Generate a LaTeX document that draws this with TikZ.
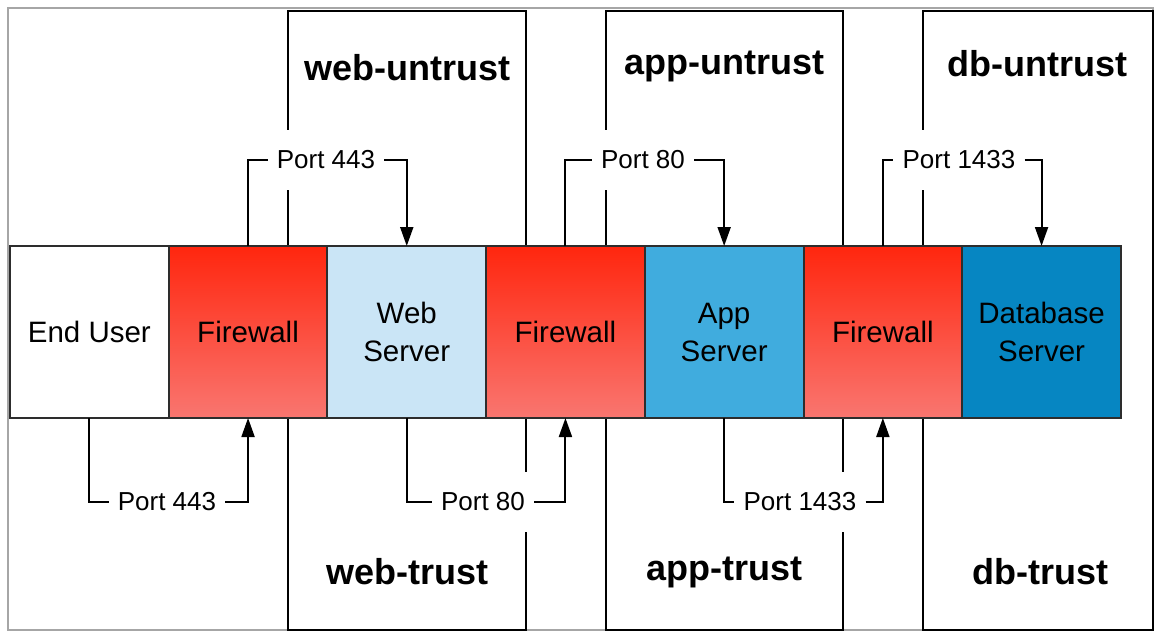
\documentclass[tikz,border=0pt]{standalone}
\usepackage{fontspec}
\setmainfont{Liberation Sans}
\usepackage{tikz}
\usetikzlibrary{arrows.meta}
\usetikzlibrary{positioning}
\usepackage{xcolor}

\definecolor{fwtop}{RGB}{255,38,14}
\definecolor{fwbot}{RGB}{249,118,112}
\definecolor{webblue}{RGB}{202,229,246}
\definecolor{appblue}{RGB}{64,172,222}
\definecolor{dbblue}{RGB}{6,134,194}
\definecolor{edge}{RGB}{45,45,45}

\begin{document}
\begin{tikzpicture}[x=1pt,y=-1pt]
\tikzset{>={Triangle[width=13pt,length=19pt]}}
\tikzstyle{box} =[draw=edge, line width=2pt, outer sep=0pt, inner sep=0pt, minimum width=158.7pt, minimum height=172pt, align=center, font=\fontsize{29.5}{38}\selectfont]
\tikzstyle{fwbox} =[box, top color=fwtop, bottom color=fwbot]
\tikzstyle{port} =[fill=white, inner xsep=9pt, inner ysep=21pt, font=\fontsize{26}{30}\selectfont]
\tikzstyle{zone} =[draw=black, line width=2pt]
\tikzstyle{zonelabel} =[font=\bfseries\fontsize{36}{40}\selectfont]
\tikzstyle{wire} =[line width=2pt]

\useasboundingbox (0,0) rectangle (1155,631);
\draw[gray!70, line width=1.5pt] (8,8) rectangle (1153,630);

% zones
\draw[zone] (288,11) rectangle (526,630);
\draw[zone] (606,11) rectangle (843,630);
\draw[zone] (923,11) rectangle (1153,630);

\node[zonelabel] (wu) at (407,68) {web-untrust};
\node[zonelabel] (au) at (724,66) {app-untrust};
\node[zonelabel] (du) at (1037,64) {db-untrust};
\node[zonelabel] (wt) at (407,572) {web-trust};
\node[zonelabel] (at) at (724,572) {app-trust};
\node[zonelabel] (dt) at (1040,572) {db-trust};

% the strip
\node[box, fill=white] (user) at (89.35,332) {End User};
\node[fwbox, right=0pt of user] (fw1) {Firewall};
\node[box, fill=webblue, right=0pt of fw1] (web) {Web\\Server};
\node[fwbox, right=0pt of web] (fw2) {Firewall};
\node[box, fill=appblue, right=0pt of fw2] (app) {App\\Server};
\node[fwbox, right=0pt of app] (fw3) {Firewall};
\node[box, fill=dbblue, right=0pt of fw3] (db) {Database\\Server};

% ports
\node[port] (p1) at (326,160) {Port 443};
\node[port] (p2) at (643,160) {Port 80};
\node[port] (p3) at (959,160) {Port 1433};
\node[port] (q1) at (167,502) {Port 443};
\node[port] (q2) at (483,502) {Port 80};
\node[port] (q3) at (800,502) {Port 1433};

\draw [wire] (fw1.north) |- (p1.west);
\draw [->,wire] (p1.east) -| (web.north);
\draw [wire] (fw2.north) |- (p2.west);
\draw [->,wire] (p2.east) -| (app.north);
\draw [wire] (fw3.north) |- (p3.west);
\draw [->,wire] (p3.east) -| (db.north);

\draw [wire] (user.south) |- (q1.west);
\draw [->,wire] (q1.east) -| (fw1.south);
\draw [wire] (web.south) |- (q2.west);
\draw [->,wire] (q2.east) -| (fw2.south);
\draw [wire] (app.south) |- (q3.west);
\draw [->,wire] (q3.east) -| (fw3.south);
\end{tikzpicture}
\end{document}
